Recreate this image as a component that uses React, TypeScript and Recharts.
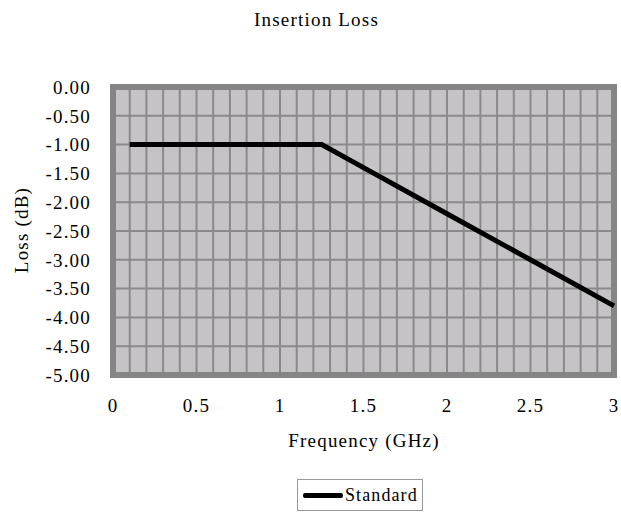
import { CartesianGrid, Line, LineChart, ReferenceArea, XAxis, YAxis } from "recharts";

const frequency = [0.1, 0.5, 1, 1.25, 1.5, 2, 2.5, 3];
const standardLoss = [-1, -1, -1, -1, -1.4, -2.2, -3.0, -3.8];
const xTicks = [0, 0.5, 1, 1.5, 2, 2.5, 3];
const yTicks = [0, -0.5, -1, -1.5, -2, -2.5, -3, -3.5, -4, -4.5, -5];
// minor vertical grid every 0.1 GHz
const xGrid = Array.from({ length: 31 }, (_, i) => i / 10);

const data = frequency.map((f, i) => ({ f, loss: standardLoss[i] }));

const font = "'Liberation Serif', 'Times New Roman', serif";
const txt = { fontFamily: font, fontSize: 19, letterSpacing: 1.2, fill: "#000" };

export default function App() {
  return (
    <div style={{ position: "absolute", left: 0, top: 0, width: 621, height: 513, background: "#fff", fontFamily: font, color: "#000" }}>
      <div style={{ position: "absolute", left: 0, width: 633, top: 9, textAlign: "center", fontSize: 19, letterSpacing: 1.2 }}>
        Insertion Loss
      </div>
      <LineChart width={621} height={513} data={data} margin={{ top: 87, right: 7, bottom: 0, left: 0 }}>
        <CartesianGrid
          fill="#c6c3c6"
          fillOpacity={1}
          stroke="#8a8a8a"
          strokeWidth={2}
          verticalValues={xGrid}
          horizontalValues={yTicks}
        />
        <XAxis
          dataKey="f"
          type="number"
          domain={[0, 3]}
          ticks={xTicks}
          height={138}
          axisLine={false}
          tickLine={false}
          tickSize={0}
          tickMargin={24}
          tick={txt}
          interval={0}
        />
        <YAxis
          type="number"
          domain={[-5, 0]}
          ticks={yTicks}
          width={113}
          axisLine={false}
          tickLine={false}
          tickSize={0}
          tickMargin={22}
          tick={txt}
          interval={0}
          tickFormatter={(v: number) => v.toFixed(2)}
        />
        <ReferenceArea x1={0} x2={3} y1={-5} y2={0} fill="none" stroke="#858585" strokeWidth={6} ifOverflow="visible" />
        <Line
          type="linear"
          dataKey="loss"
          name="Standard"
          stroke="#000"
          strokeWidth={5}
          dot={false}
          isAnimationActive={false}
        />
      </LineChart>
      <div style={{ position: "absolute", left: 364, top: 430, transform: "translateX(-50%)", fontSize: 19, letterSpacing: 1.2, whiteSpace: "nowrap" }}>
        Frequency (GHz)
      </div>
      <div style={{ position: "absolute", left: 22, top: 230, transform: "translate(-50%, -50%) rotate(-90deg)", fontSize: 19, letterSpacing: 1.2, whiteSpace: "nowrap" }}>
        Loss (dB)
      </div>
      <div style={{ position: "absolute", left: 297, top: 479, width: 124, height: 30, border: "1.5px solid #999", background: "#fff", display: "flex", alignItems: "center" }}>
        <div style={{ width: 40, height: 5, background: "#000", marginLeft: 5, borderRadius: 2 }} />
        <span style={{ fontSize: 18, letterSpacing: 1.1, marginLeft: 2 }}>Standard</span>
      </div>
    </div>
  );
}
